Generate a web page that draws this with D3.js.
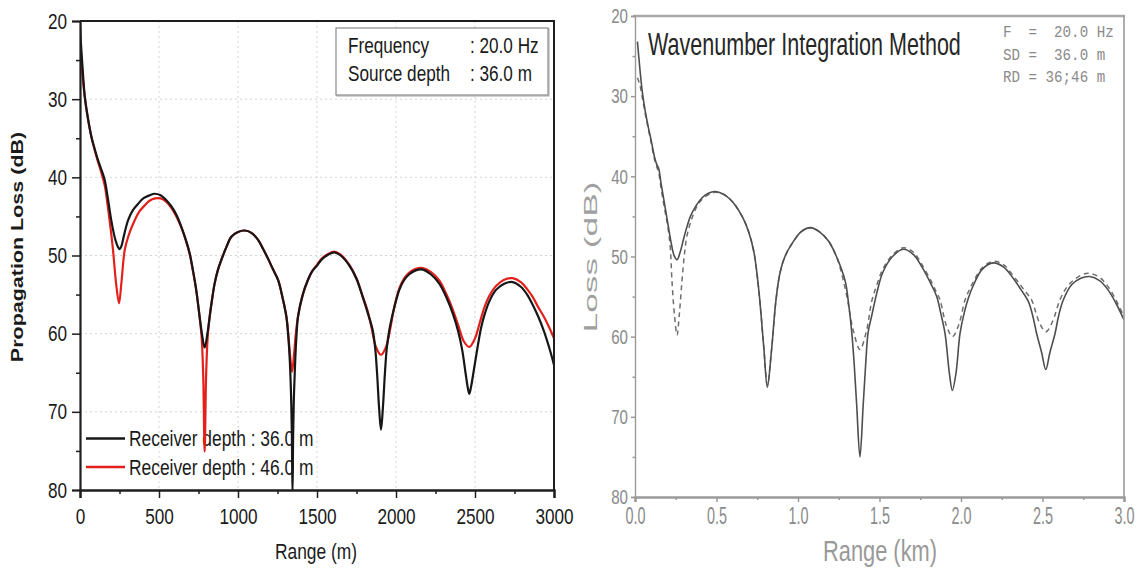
<!DOCTYPE html>
<html>
<head>
<meta charset="utf-8">
<script src="https://cdn.jsdelivr.net/npm/d3@7"></script>
<style>
  html, body { margin: 0; padding: 0; background: #fff; }
  svg { display: block; }
  .mono { white-space: pre; }
</style>
</head>
<body>
<svg id="chart" width="1143" height="572"></svg>
<script>
// ---------- data: propagation loss (dB) vs range ----------
// Left panel: range in metres, receiver depth 36 m and 46 m
const rangeTicksM = [0, 500, 1000, 1500, 2000, 2500, 3000];
const lossTicks = [20, 30, 40, 50, 60, 70, 80];

const receiver36 = [
  [0,20.0],[5,22.5],[15,25.6],[30,29.6],[50,32.4],[72,34.8],[95,36.5],[114,37.8],[135,39.0],[156,40.3],
  [175,42.5],[198,45.5],[220,47.7],[240,48.9],[251,49.2],[262,48.8],[280,47.3],[304,45.5],[335,44.2],
  [367,43.4],[400,42.7],[440,42.3],[473,42.1],[510,42.3],[545,42.9],[578,43.7],[610,44.8],[641,46.3],
  [670,48.0],[694,49.7],[715,51.9],[735,54.3],[757,57.8],[771,59.9],[789,61.8],[807,59.9],[821,57.8],
  [836,55.6],[852,53.6],[872,51.9],[894,50.6],[925,49.0],[958,47.6],[1000,47.0],[1042,46.8],[1085,47.1],
  [1127,48.0],[1160,49.2],[1190,50.4],[1220,51.7],[1253,53.1],[1280,55.2],[1306,57.8],[1318,60.3],
  [1328,63.5],[1336,68.0],[1341,73.0],[1345,80.5],[1349,73.0],[1354,68.0],[1362,63.5],[1370,60.3],
  [1380,57.8],[1410,55.0],[1443,53.1],[1470,52.0],[1500,51.3],[1530,50.5],[1570,49.9],[1610,49.6],
  [1650,50.0],[1705,51.3],[1750,53.0],[1789,55.3],[1822,57.4],[1852,59.5],[1868,61.8],[1880,65.0],
  [1893,69.5],[1905,72.3],[1917,69.5],[1930,65.0],[1942,61.8],[1958,59.5],[1990,56.6],[2021,54.4],
  [2050,53.2],[2084,52.4],[2125,51.9],[2169,51.8],[2220,52.4],[2274,53.6],[2320,55.4],[2359,57.4],
  [2395,59.8],[2420,62.2],[2440,65.0],[2455,67.0],[2464,67.7],[2475,66.8],[2490,65.0],[2510,62.5],
  [2538,59.3],[2560,57.6],[2590,55.9],[2633,54.4],[2685,53.6],[2738,53.4],[2790,54.0],[2830,55.0],
  [2865,56.3],[2900,57.8],[2935,59.6],[2970,61.8],[3000,64.0]
];

const receiver46 = [
  [0,22.8],[10,25.5],[20,27.8],[30,29.7],[50,32.5],[72,34.8],[95,36.7],[114,38.0],[135,39.4],[156,41.0],
  [175,43.6],[195,46.8],[209,49.3],[228,53.5],[247,56.1],[262,53.5],[283,49.3],[305,47.6],[335,46.0],
  [375,44.4],[409,43.6],[440,43.0],[475,42.7],[510,42.7],[545,43.1],[578,43.9],[610,45.0],[641,46.4],
  [670,48.1],[694,49.8],[715,52.0],[735,54.4],[757,57.9],[770,60.5],[780,65.5],[789,75.1],[798,65.5],
  [808,60.5],[821,57.8],[836,55.6],[852,53.6],[872,51.9],[894,50.6],[925,49.0],[958,47.6],[1000,47.0],
  [1042,46.8],[1085,47.1],[1127,48.0],[1160,49.2],[1190,50.4],[1220,51.7],[1253,53.1],[1280,55.2],
  [1306,57.8],[1318,60.0],[1330,62.8],[1342,64.9],[1354,62.8],[1366,60.0],[1380,57.8],[1410,55.0],
  [1443,53.1],[1470,52.0],[1500,51.2],[1530,50.4],[1570,49.8],[1610,49.5],[1650,49.9],[1705,51.2],
  [1750,52.9],[1789,55.2],[1822,57.2],[1845,59.2],[1873,61.7],[1905,62.7],[1937,61.7],[1965,59.2],
  [1990,56.5],[2021,54.2],[2050,53.0],[2084,52.2],[2125,51.7],[2169,51.6],[2220,52.1],[2274,53.2],
  [2320,55.0],[2359,56.9],[2395,59.0],[2430,61.0],[2464,61.7],[2500,60.6],[2530,58.6],[2560,56.6],
  [2590,55.2],[2633,53.9],[2685,53.1],[2738,52.9],[2790,53.4],[2830,54.3],[2865,55.3],[2900,56.6],
  [2935,57.8],[2970,59.2],[3000,60.6]
];

// Right panel: range in km, wavenumber integration (solid RD 36 m, dashed RD 46 m)
const rangeTicksKm = [0, 0.5, 1.0, 1.5, 2.0, 2.5, 3.0];

const wiSolid = [
  [0.015,23.2],[0.03,26.6],[0.045,29.5],[0.063,31.9],[0.08,33.7],[0.1,35.6],[0.12,37.6],[0.135,38.6],
  [0.145,39.0],[0.16,40.9],[0.175,42.7],[0.19,44.5],[0.205,46.3],[0.222,48.3],[0.24,49.9],[0.258,50.4],
  [0.275,49.6],[0.292,48.3],[0.31,46.9],[0.34,45.0],[0.37,43.8],[0.41,42.7],[0.45,42.1],[0.493,41.9],
  [0.54,42.2],[0.58,42.8],[0.615,43.6],[0.66,45.1],[0.697,46.9],[0.73,49.5],[0.76,54.3],[0.79,61.3],
  [0.812,66.3],[0.838,61.6],[0.865,55.4],[0.89,52.0],[0.92,50.0],[0.963,48.4],[1.02,46.9],[1.076,46.4],
  [1.13,46.9],[1.188,48.1],[1.24,50.2],[1.29,53.1],[1.31,55.8],[1.33,59.5],[1.345,63.5],[1.36,68.5],
  [1.38,75.0],[1.40,68.5],[1.415,63.5],[1.43,59.5],[1.45,57.6],[1.483,54.6],[1.52,52.0],[1.58,50.0],
  [1.646,49.1],[1.71,49.8],[1.76,51.3],[1.82,53.6],[1.851,55.0],[1.875,57.0],[1.902,59.6],[1.929,64.6],
  [1.947,66.7],[1.969,64.6],[1.994,59.6],[2.02,57.0],[2.045,55.2],[2.08,53.4],[2.13,51.6],[2.198,50.8],
  [2.26,51.3],[2.32,52.7],[2.37,54.2],[2.413,55.6],[2.44,57.4],[2.464,59.6],[2.495,62.0],[2.52,64.1],
  [2.545,62.0],[2.577,59.6],[2.60,57.3],[2.628,55.4],[2.68,53.5],[2.735,52.7],[2.79,52.5],[2.85,53.0],
  [2.9,54.1],[2.95,55.8],[3.0,57.9]
];

const wiDashed = [
  [0.015,27.7],[0.03,28.6],[0.045,30.2],[0.063,32.2],[0.08,33.9],[0.1,35.9],[0.12,37.9],[0.135,38.9],
  [0.145,39.5],[0.16,41.5],[0.175,43.3],[0.19,45.0],[0.205,46.8],[0.217,49.0],[0.227,53.1],[0.243,57.5],
  [0.258,59.8],[0.272,57.2],[0.288,53.1],[0.303,49.8],[0.319,47.4],[0.35,45.2],[0.39,43.4],[0.44,42.4],
  [0.493,42.0],[0.54,42.2],[0.58,42.8],[0.615,43.6],[0.66,45.1],[0.697,46.9],[0.73,49.5],[0.76,54.3],
  [0.79,61.3],[0.812,66.0],[0.838,61.6],[0.865,55.4],[0.89,52.0],[0.92,50.0],[0.963,48.4],[1.02,46.9],
  [1.076,46.4],[1.13,46.9],[1.188,48.1],[1.24,50.2],[1.27,52.3],[1.30,55.0],[1.34,59.3],[1.38,61.6],
  [1.42,59.3],[1.452,55.6],[1.483,53.6],[1.52,51.6],[1.58,49.8],[1.646,48.9],[1.71,49.5],[1.76,51.0],
  [1.82,53.2],[1.85,54.5],[1.871,55.4],[1.91,58.6],[1.947,60.0],[1.985,58.6],[2.025,55.4],[2.055,54.0],
  [2.08,53.0],[2.13,51.4],[2.198,50.6],[2.26,51.0],[2.32,52.4],[2.37,53.7],[2.40,54.5],[2.433,55.4],
  [2.48,58.2],[2.52,59.4],[2.56,58.2],[2.607,55.4],[2.65,53.8],[2.70,52.8],[2.75,52.2],[2.79,52.1],
  [2.85,52.6],[2.9,53.7],[2.95,55.4],[3.0,57.5]
];

const leftInfo = [["Frequency", ": 20.0 Hz"], ["Source depth", ": 36.0 m"]];
const leftLegend = ["Receiver depth : 36.0 m", "Receiver depth : 46.0 m"];
const rightInfo = ["F  =  20.0 Hz", "SD =  36.0 m", "RD = 36;46 m"];

// ---------- drawing ----------
const svg = d3.select("#chart");
svg.append("rect").attr("width", 1143).attr("height", 572).attr("fill", "#fff");
const FONT = "'Liberation Sans', Arial, sans-serif";
const MONO = "'Liberation Mono', 'DejaVu Sans Mono', monospace";
const smooth = d3.curveCatmullRom.alpha(0.5);

// text helper: sx squeezes glyphs horizontally, len fits the run to a length
function label(g, o) {
  let tr = `translate(${o.x},${o.y}) scale(${o.sx || 1},${o.sy || 1})`;
  if (o.rotate) tr += " rotate(-90)";
  const t = g.append("text")
    .attr("transform", tr)
    .attr("text-anchor", o.anchor || "start")
    .attr("font-family", o.family || FONT)
    .attr("font-size", o.size)
    .attr("font-weight", o.weight || "normal")
    .attr("fill", o.fill || "#1a1a1a")
    .text(o.text);
  if (o.len) t.attr("textLength", o.len).attr("lengthAdjust", "spacingAndGlyphs");
  return t;
}

// ===== Left panel =====
const xL = d3.scaleLinear().domain([0, 3000]).range([80, 554]);
const yL = d3.scaleLinear().domain([20, 80]).range([21, 490]);
const gL = svg.append("g");

// dotted grid
gL.append("g").selectAll("line").data(rangeTicksM.slice(1, -1)).join("line")
  .attr("x1", d => xL(d)).attr("x2", d => xL(d)).attr("y1", yL(20)).attr("y2", yL(80))
  .attr("stroke", "#d4d4d4").attr("stroke-width", 1).attr("stroke-dasharray", "2,3");
gL.append("g").selectAll("line").data(lossTicks.slice(1, -1)).join("line")
  .attr("y1", d => yL(d)).attr("y2", d => yL(d)).attr("x1", xL(0)).attr("x2", xL(3000))
  .attr("stroke", "#d4d4d4").attr("stroke-width", 1).attr("stroke-dasharray", "2,3");

// info box
gL.append("rect").attr("x", 337).attr("y", 29).attr("width", 212).attr("height", 67)
  .attr("fill", "#fff").attr("stroke", "#c4c4c4").attr("stroke-width", 1.5);
gL.append("rect").attr("x", 336).attr("y", 28).attr("width", 212).attr("height", 67)
  .attr("fill", "#fff").attr("stroke", "#8a8a8a").attr("stroke-width", 1.2);
leftInfo.forEach((row, i) => {
  label(gL, { x: 348, y: 53 + i * 28, text: row[0], size: 22, sx: 0.78 });
  label(gL, { x: 470, y: 53 + i * 28, text: row[1], size: 22, sx: 0.78 });
});

// legend (drawn under the curves)
const legendColors = ["#161616", "#e3201b"];
leftLegend.forEach((txt, i) => {
  const y = 438.5 + i * 28.5;
  gL.append("line").attr("x1", 86).attr("x2", 125).attr("y1", y).attr("y2", y)
    .attr("stroke", legendColors[i]).attr("stroke-width", 2.4);
  label(gL, { x: 129, y: y + 7.5, text: txt, size: 22, sx: 0.79 });
});

// curves
svg.append("clipPath").attr("id", "clipL").append("rect")
  .attr("x", 80).attr("y", 21).attr("width", 474).attr("height", 469);
const lineL = d3.line().x(d => xL(d[0])).y(d => yL(d[1])).curve(smooth);
const curvesL = gL.append("g").attr("clip-path", "url(#clipL)");
curvesL.append("path").datum(receiver46).attr("d", lineL)
  .attr("fill", "none").attr("stroke", legendColors[1]).attr("stroke-width", 2.2).attr("stroke-linejoin", "round");
curvesL.append("path").datum(receiver36).attr("d", lineL)
  .attr("fill", "none").attr("stroke", legendColors[0]).attr("stroke-width", 2.2).attr("stroke-linejoin", "round");

// frame
gL.append("path").attr("d", `M${xL(0)},${yL(20)}H${xL(3000)}V${yL(80)}`)
  .attr("fill", "none").attr("stroke", "#1e1e1e").attr("stroke-width", 2);

// axes
const minorM = d3.range(250, 3000, 500);
const minorDb = d3.range(25, 80, 10);
function styleAxis(g, color, width) {
  g.select(".domain").attr("stroke", color).attr("stroke-width", width);
  g.selectAll(".tick line").attr("stroke", color).attr("stroke-width", 1.5);
}
const axBL = gL.append("g").attr("transform", `translate(0,${yL(80)})`)
  .call(d3.axisBottom(xL).tickValues(rangeTicksM).tickSize(8).tickFormat(d3.format("d")));
styleAxis(axBL, "#1e1e1e", 2.4);
axBL.selectAll(".tick text").attr("font-family", FONT).attr("font-size", 22).attr("fill", "#1a1a1a")
  .attr("y", 18).attr("transform", "scale(0.78,1)");
const axBLm = gL.append("g").attr("transform", `translate(0,${yL(80)})`)
  .call(d3.axisBottom(xL).tickValues(minorM).tickSize(4).tickFormat(""));
styleAxis(axBLm, "#1e1e1e", 0);
axBLm.select(".domain").remove();

const axLL = gL.append("g").attr("transform", `translate(${xL(0)},0)`)
  .call(d3.axisLeft(yL).tickValues(lossTicks).tickSize(8));
styleAxis(axLL, "#1e1e1e", 2.2);
axLL.selectAll(".tick text").attr("font-family", FONT).attr("font-size", 22).attr("fill", "#1a1a1a")
  .attr("x", -13 / 0.78).attr("transform", "scale(0.78,1)");
const axLLm = gL.append("g").attr("transform", `translate(${xL(0)},0)`)
  .call(d3.axisLeft(yL).tickValues(minorDb).tickSize(4).tickFormat(""));
styleAxis(axLLm, "#1e1e1e", 0);
axLLm.select(".domain").remove();

// titles
label(gL, { x: 316, y: 559, text: "Range (m)", size: 22, sx: 0.79, anchor: "middle" });
label(gL, { x: 23, y: 247, text: "Propagation Loss (dB)", size: 21.5, sx: 0.77, anchor: "middle",
  weight: "bold", rotate: true });

// ===== Right panel =====
const xR = d3.scaleLinear().domain([0, 3]).range([635, 1124]);
const yR = d3.scaleLinear().domain([20, 80]).range([16, 497]);
const gR = svg.append("g");
const GREY = "#8a8a8a";

svg.append("clipPath").attr("id", "clipR").append("rect")
  .attr("x", 635).attr("y", 16).attr("width", 489).attr("height", 481);
const lineR = d3.line().x(d => xR(d[0])).y(d => yR(d[1])).curve(smooth);
const curvesR = gR.append("g").attr("clip-path", "url(#clipR)");
curvesR.append("path").datum(wiDashed).attr("d", lineR)
  .attr("fill", "none").attr("stroke", "#6e6e6e").attr("stroke-width", 1.5).attr("stroke-dasharray", "5,4");
curvesR.append("path").datum(wiSolid).attr("d", lineR)
  .attr("fill", "none").attr("stroke", "#4e4e4e").attr("stroke-width", 1.6).attr("stroke-linejoin", "round");

// frame: heavy top and bottom, thin sides
gR.append("line").attr("x1", 633).attr("x2", 1125).attr("y1", 16).attr("y2", 16)
  .attr("stroke", "#a8a8a8").attr("stroke-width", 2.6);
gR.append("line").attr("x1", xR(3)).attr("x2", xR(3)).attr("y1", 16).attr("y2", 497)
  .attr("stroke", "#9a9a9a").attr("stroke-width", 1.6);

const minorKm = d3.range(0.25, 3, 0.5);
const axBR = gR.append("g").attr("transform", `translate(0,${yR(80)})`)
  .call(d3.axisBottom(xR).tickValues(rangeTicksKm).tickSize(5).tickFormat(d3.format(".1f")));
styleAxis(axBR, "#9a9a9a", 2.4);
axBR.selectAll(".tick text").attr("font-family", FONT).attr("font-size", 24).attr("fill", GREY)
  .attr("y", 10).attr("transform", "scale(0.6,1)");
const axBRm = gR.append("g").attr("transform", `translate(0,${yR(80)})`)
  .call(d3.axisBottom(xR).tickValues(minorKm).tickSize(3).tickFormat(""));
styleAxis(axBRm, "#9a9a9a", 0);
axBRm.select(".domain").remove();

const axLR = gR.append("g").attr("transform", `translate(${xR(0)},0)`)
  .call(d3.axisLeft(yR).tickValues(lossTicks).tickSize(4));
styleAxis(axLR, "#9a9a9a", 1.4);
axLR.selectAll(".tick text").attr("font-family", FONT).attr("font-size", 21).attr("fill", GREY)
  .attr("x", -7 / 0.72).attr("transform", "scale(0.72,1)");
const axLRm = gR.append("g").attr("transform", `translate(${xR(0)},0)`)
  .call(d3.axisLeft(yR).tickValues(minorDb).tickSize(2.5).tickFormat(""));
styleAxis(axLRm, "#9a9a9a", 0);
axLRm.select(".domain").remove();

// panel title: tall narrow lettering, squeezed to a 313 px run
const title = label(gR, { x: 648, y: 55, text: "Wavenumber Integration Method", size: 32, fill: "#262626" });
const titleSx = 313 / title.node().getComputedTextLength();
title.attr("transform", `translate(648,55) scale(${titleSx},1)`);

// run parameters (fixed-pitch lines)
rightInfo.forEach((s, i) => {
  label(gR, { x: 1003, y: 37 + i * 22.5, text: s, size: 14.2, sy: 1.2, family: MONO, fill: GREY })
    .attr("class", "mono").attr("xml:space", "preserve");
});
label(gR, { x: 880, y: 561, text: "Range  (km)", size: 29, len: 114, anchor: "middle", fill: "#999" });
label(gR, { x: 597, y: 257, text: "Loss  (dB)", size: 26, sx: 0.7, len: 151, anchor: "middle",
  rotate: true, fill: "#a0a0a0" });
</script>
</body>
</html>
